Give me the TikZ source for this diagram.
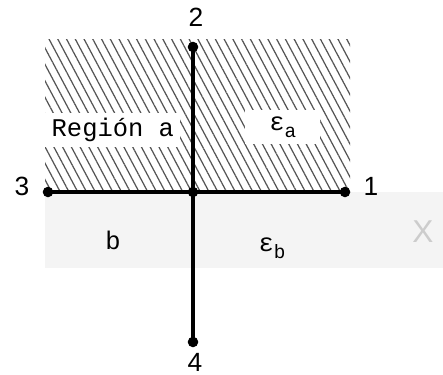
\documentclass[tikz,border=0pt]{standalone}
\usepackage{fontspec}
\setmainfont{Liberation Sans}
\setmonofont{Liberation Mono}
\usepackage{tikz}
\usetikzlibrary{patterns.meta, positioning, calc}
\definecolor{hatchgray}{RGB}{85, 85, 85}
\definecolor{bandgray}{RGB}{244, 244, 244}

\newcommand{\subsc}[1]{\raisebox{-0.55ex}{\fontsize{11}{12}\selectfont #1}}

\tikzset{
  vertex/.style={circle, fill=black, inner sep=0pt, minimum size=6pt},
  numlabel/.style={font=\fontsize{15}{17}\selectfont},
  typelabel/.style={font=\ttfamily\fontsize{14.5}{16}\selectfont},
  reglabel/.style={typelabel, fill=white, inner sep=2pt, minimum height=19pt},
  wire/.style={line width=1.8pt}
}

\begin{document}
\begin{tikzpicture}[x=0.02cm, y=-0.02cm]
  \useasboundingbox (0,0) rectangle (443,375);

  % regions
  \fill[bandgray] (45,192) rectangle (443,268);
  \fill[pattern={Lines[angle=-62, distance=4.4pt, line width=0.7pt]}, pattern color=hatchgray] (45,40) rectangle (350,192);

  % labels in the regions
  \node[reglabel, minimum width=2.7cm, anchor=west] (rega) at (45,130) {Región a};
  \node[reglabel, minimum width=1.5cm, anchor=west] (epsa) at (245,127) {ε\subsc{a}};
  \node[typelabel] (regb) at (113,240) {b};
  \node[typelabel] (epsb) at (272,248) {ε\subsc{b}};

  % terminals
  \node[vertex] (c) at (193,192) {};
  \node[vertex] (p1) at (345,192) {};
  \node[vertex] (p2) at (193,47) {};
  \node[vertex] (p3) at (48,192) {};
  \node[vertex] (p4) at (193,342) {};

  \draw[wire] (p3.center) -- (p1.center);
  \draw[wire] (p2.center) -- (p4.center);

  \node[numlabel] (n1) at (371,186) {1};
  \node[numlabel] (n2) at (196,17) {2};
  \node[numlabel] (n3) at (22,186) {3};
  \node[numlabel] (n4) at (195,362) {4};

  \node[text=black!20, font=\fontsize{18}{20}\selectfont] (mark) at (423,232) {X};
\end{tikzpicture}
\end{document}
